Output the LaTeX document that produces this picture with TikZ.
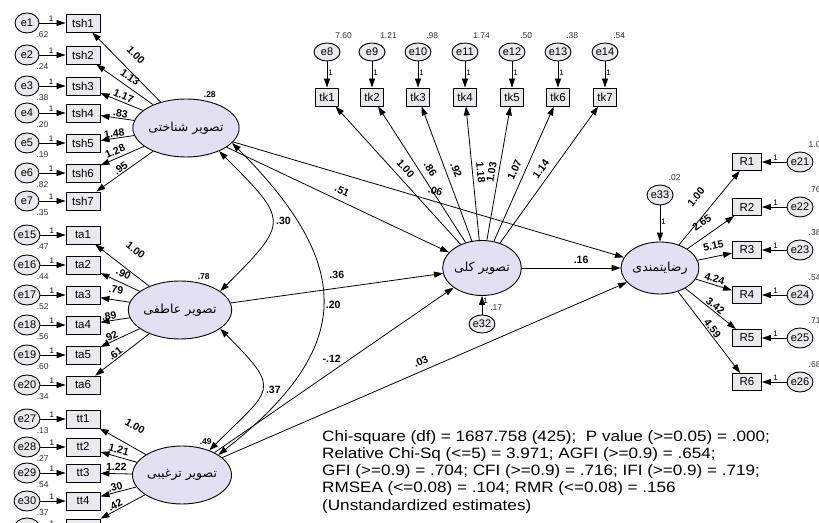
\documentclass[tikz,border=0pt]{standalone}
\usepackage{fontspec}
\setmainfont{Liberation Sans}
\newfontfamily\widefont[FakeStretch=1.14]{Liberation Sans}
\newfontfamily\arabicfont[Script=Arabic]{DejaVu Sans}
\TeXXeTstate=1
\usetikzlibrary{arrows.meta,shapes.geometric}
\definecolor{latfill}{RGB}{228,224,243}
\definecolor{boxfill}{RGB}{234,234,238}
\newcommand{\fa}[1]{{\arabicfont\beginR #1\endR}}

\begin{document}
\begin{tikzpicture}
  [x=1pt,y=1pt]
      \tikzstyle{lat_style} = [ellipse, draw, line width=0.9pt, fill=latfill, minimum width=78pt, minimum height=58pt, inner sep=0pt, font=\fontsize{12.5}{14}\selectfont]
      \tikzstyle{err_style} = [ellipse, draw, line width=0.9pt, fill=boxfill, minimum width=24pt, minimum height=20pt, inner sep=0pt, font=\fontsize{11}{12}\selectfont]
      \tikzstyle{obs_style} = [rectangle, draw, line width=0.9pt, fill=boxfill, minimum width=34pt, minimum height=18pt, inner sep=0pt, font=\fontsize{11.5}{12}\selectfont]
      \tikzstyle{edge_style} = [draw=black, line width=0.8pt, -{Triangle[length=9pt,width=6pt]}]
      \tikzstyle{cov_style} = [draw=black, line width=0.8pt, {Triangle[length=9pt,width=6pt]}-{Triangle[length=9pt,width=6pt]}]
      \tikzstyle{load_style} = [font=\bfseries\fontsize{10.5}{12}\selectfont, inner sep=1pt, sloped, above]
      \tikzstyle{one_style} = [font=\fontsize{8}{9}\selectfont, inner sep=1pt]
      \tikzstyle{var_style} = [font=\fontsize{8.5}{9}\selectfont, text=black!80, inner sep=0.5pt, label distance=0pt]
      \tikzstyle{tvar_style} = [font=\fontsize{8.5}{9}\selectfont, text=black!80, inner sep=0.5pt, label distance=5pt]
      \tikzstyle{lvar_style} = [font=\bfseries\fontsize{8.5}{9}\selectfont, inner sep=0.5pt, label distance=2pt]
  \useasboundingbox (0,0) rectangle (819,522);
  \clip (0,0) rectangle (819,522);

  % latent variables
  \node[lat_style, label={[lvar_style]60:.28}] (lcog) at (186,394) {\fa{تصویر شناختی}};
  \node[lat_style, label={[lvar_style]60:.78}] (laff) at (180,212) {\fa{تصویر عاطفی}};
  \node[lat_style, label={[lvar_style]60:.49}] (lcon) at (182,47) {\fa{تصویر ترغیبی}};
  \node[lat_style, minimum width=60pt, minimum height=55pt] (lall) at (482,254) {\fa{تصویر کلی}};
  \node[lat_style, minimum width=64pt, minimum height=52pt] (lsat) at (660,254) {\fa{رضایتمندی}};

  % cognitive image indicators
  \node[err_style, label={[var_style]-40:.62}] (e1) at (27,499) {e1};
  \node[err_style, label={[var_style]-40:.24}] (e2) at (27,467) {e2};
  \node[err_style, label={[var_style]-40:.38}] (e3) at (27,436) {e3};
  \node[err_style, label={[var_style]-40:.20}] (e4) at (27,409) {e4};
  \node[err_style, label={[var_style]-40:.19}] (e5) at (27,379) {e5};
  \node[err_style, label={[var_style]-40:.82}] (e6) at (27,349) {e6};
  \node[err_style, label={[var_style]-40:.35}] (e7) at (27,321) {e7};
  \node[obs_style] (tsh1) at (83,499) {tsh1};
  \node[obs_style] (tsh2) at (83,467) {tsh2};
  \node[obs_style] (tsh3) at (83,436) {tsh3};
  \node[obs_style] (tsh4) at (83,409) {tsh4};
  \node[obs_style] (tsh5) at (83,379) {tsh5};
  \node[obs_style] (tsh6) at (83,349) {tsh6};
  \node[obs_style] (tsh7) at (83,321) {tsh7};

  % affective image indicators
  \node[err_style, label={[var_style]-40:.47}] (e15) at (27,287) {e15};
  \node[err_style, label={[var_style]-40:.44}] (e16) at (27,257) {e16};
  \node[err_style, label={[var_style]-40:.52}] (e17) at (27,227) {e17};
  \node[err_style, label={[var_style]-40:.56}] (e18) at (27,197) {e18};
  \node[err_style, label={[var_style]-40:.60}] (e19) at (27,167) {e19};
  \node[err_style, label={[var_style]-40:.34}] (e20) at (27,137) {e20};
  \node[obs_style] (ta1) at (83,287) {ta1};
  \node[obs_style] (ta2) at (83,257) {ta2};
  \node[obs_style] (ta3) at (83,227) {ta3};
  \node[obs_style] (ta4) at (83,197) {ta4};
  \node[obs_style] (ta5) at (83,167) {ta5};
  \node[obs_style] (ta6) at (83,137) {ta6};

  % conative image indicators
  \node[err_style, label={[var_style]-40:.13}] (e27) at (27,103) {e27};
  \node[err_style, label={[var_style]-40:.27}] (e28) at (27,75) {e28};
  \node[err_style, label={[var_style]-40:.54}] (e29) at (27,49) {e29};
  \node[err_style, label={[var_style]-40:.37}] (e30) at (27,21) {e30};
  \node[err_style] (e31) at (27,-6) {e31};
  \node[obs_style] (tt1) at (83,103) {tt1};
  \node[obs_style] (tt2) at (83,75) {tt2};
  \node[obs_style] (tt3) at (83,49) {tt3};
  \node[obs_style] (tt4) at (83,21) {tt4};
  \node[obs_style] (tt5) at (83,-6) {tt5};

  % overall image indicators
  \node[err_style, minimum width=26pt, minimum height=18pt, label={[tvar_style]60:7.60}] (e8) at (327,470) {e8};
  \node[err_style, minimum width=26pt, minimum height=18pt, label={[tvar_style]60:1.21}] (e9) at (372,470) {e9};
  \node[err_style, minimum width=26pt, minimum height=18pt, label={[tvar_style]60:.98}] (e10) at (418,470) {e10};
  \node[err_style, minimum width=26pt, minimum height=18pt, label={[tvar_style]60:1.74}] (e11) at (465,470) {e11};
  \node[err_style, minimum width=26pt, minimum height=18pt, label={[tvar_style]60:.50}] (e12) at (512,470) {e12};
  \node[err_style, minimum width=26pt, minimum height=18pt, label={[tvar_style]60:.38}] (e13) at (558,470) {e13};
  \node[err_style, minimum width=26pt, minimum height=18pt, label={[tvar_style]60:.54}] (e14) at (605,470) {e14};
  \node[obs_style, minimum width=23pt] (tk1) at (327,425) {tk1};
  \node[obs_style, minimum width=23pt] (tk2) at (372,425) {tk2};
  \node[obs_style, minimum width=23pt] (tk3) at (418,425) {tk3};
  \node[obs_style, minimum width=23pt] (tk4) at (465,425) {tk4};
  \node[obs_style, minimum width=23pt] (tk5) at (512,425) {tk5};
  \node[obs_style, minimum width=23pt] (tk6) at (558,425) {tk6};
  \node[obs_style, minimum width=23pt] (tk7) at (605,425) {tk7};
  \node[err_style, minimum width=24pt, minimum height=18pt, label={[tvar_style]60:.17}] (e32) at (482,198) {e32};

  % satisfaction indicators
  \node[err_style, minimum width=26pt, minimum height=20pt, label={[tvar_style]60:.02}] (e33) at (660,327) {e33};
  \node[obs_style, minimum width=29pt, minimum height=17pt] (R1) at (747,360) {R1};
  \node[obs_style, minimum width=29pt, minimum height=17pt] (R2) at (747,315) {R2};
  \node[obs_style, minimum width=29pt, minimum height=17pt] (R3) at (747,272) {R3};
  \node[obs_style, minimum width=29pt, minimum height=17pt] (R4) at (747,227) {R4};
  \node[obs_style, minimum width=29pt, minimum height=17pt] (R5) at (747,184) {R5};
  \node[obs_style, minimum width=29pt, minimum height=17pt] (R6) at (747,140) {R6};
  \node[err_style, minimum width=25pt, label={[tvar_style]60:1.0}] (e21) at (800,360) {e21};
  \node[err_style, minimum width=25pt, label={[tvar_style]60:.76}] (e22) at (800,315) {e22};
  \node[err_style, minimum width=25pt, label={[tvar_style]60:.38}] (e23) at (800,272) {e23};
  \node[err_style, minimum width=25pt, label={[tvar_style]60:.54}] (e24) at (800,227) {e24};
  \node[err_style, minimum width=25pt, label={[tvar_style]60:.71}] (e25) at (800,184) {e25};
  \node[err_style, minimum width=25pt, label={[tvar_style]60:.68}] (e26) at (800,140) {e26};

  % error paths
  \draw[edge_style] (e1) -- node[one_style, above, pos=.45] {1} (tsh1);
  \draw[edge_style] (e2) -- node[one_style, above, pos=.45] {1} (tsh2);
  \draw[edge_style] (e3) -- node[one_style, above, pos=.45] {1} (tsh3);
  \draw[edge_style] (e4) -- node[one_style, above, pos=.45] {1} (tsh4);
  \draw[edge_style] (e5) -- node[one_style, above, pos=.45] {1} (tsh5);
  \draw[edge_style] (e6) -- node[one_style, above, pos=.45] {1} (tsh6);
  \draw[edge_style] (e7) -- node[one_style, above, pos=.45] {1} (tsh7);
  \draw[edge_style] (e15) -- node[one_style, above, pos=.45] {1} (ta1);
  \draw[edge_style] (e16) -- node[one_style, above, pos=.45] {1} (ta2);
  \draw[edge_style] (e17) -- node[one_style, above, pos=.45] {1} (ta3);
  \draw[edge_style] (e18) -- node[one_style, above, pos=.45] {1} (ta4);
  \draw[edge_style] (e19) -- node[one_style, above, pos=.45] {1} (ta5);
  \draw[edge_style] (e20) -- node[one_style, above, pos=.45] {1} (ta6);
  \draw[edge_style] (e27) -- node[one_style, above, pos=.45] {1} (tt1);
  \draw[edge_style] (e28) -- node[one_style, above, pos=.45] {1} (tt2);
  \draw[edge_style] (e29) -- node[one_style, above, pos=.45] {1} (tt3);
  \draw[edge_style] (e30) -- node[one_style, above, pos=.45] {1} (tt4);
  \draw[edge_style] (e31) -- node[one_style, above, pos=.45] {1} (tt5);
  \draw[edge_style] (e8) -- node[one_style, right, pos=.45] {1} (tk1);
  \draw[edge_style] (e9) -- node[one_style, right, pos=.45] {1} (tk2);
  \draw[edge_style] (e10) -- node[one_style, right, pos=.45] {1} (tk3);
  \draw[edge_style] (e11) -- node[one_style, right, pos=.45] {1} (tk4);
  \draw[edge_style] (e12) -- node[one_style, right, pos=.45] {1} (tk5);
  \draw[edge_style] (e13) -- node[one_style, right, pos=.45] {1} (tk6);
  \draw[edge_style] (e14) -- node[one_style, right, pos=.45] {1} (tk7);
  \draw[edge_style] (e21) -- node[one_style, above, pos=.45] {1} (R1);
  \draw[edge_style] (e22) -- node[one_style, above, pos=.45] {1} (R2);
  \draw[edge_style] (e23) -- node[one_style, above, pos=.45] {1} (R3);
  \draw[edge_style] (e24) -- node[one_style, above, pos=.45] {1} (R4);
  \draw[edge_style] (e25) -- node[one_style, above, pos=.45] {1} (R5);
  \draw[edge_style] (e26) -- node[one_style, above, pos=.45] {1} (R6);
  \draw[edge_style] (e32) -- node[one_style, right, pos=.75] {1} (lall);
  \draw[edge_style] (e33) -- node[one_style, right, pos=.45] {1} (lsat);

  % loadings
  \draw[edge_style] (lcog) -- node[load_style, pos=.52, above=10pt] {1.00} (tsh1);
  \draw[edge_style] (lcog) -- node[load_style, pos=.5, above=4pt] {1.13} (tsh2);
  \draw[edge_style] (lcog) -- node[load_style, pos=.51, above=1pt] {1.17} (tsh3);
  \draw[edge_style] (lcog) -- node[load_style, pos=.43] {.83} (tsh4);
  \draw[edge_style] (lcog) -- node[load_style, pos=.57] {1.48} (tsh5);
  \draw[edge_style] (lcog) -- node[load_style, pos=.6, above=2pt] {1.28} (tsh6);
  \draw[edge_style] (lcog) -- node[load_style, pos=.52] {.95} (tsh7);
  \draw[edge_style] (laff) -- node[load_style, pos=.48, above=15pt] {1.00} (ta1);
  \draw[edge_style] (laff) -- node[load_style, pos=.51, above=4pt] {.90} (ta2);
  \draw[edge_style] (laff) -- node[load_style, pos=.52, above=5pt] {.79} (ta3);
  \draw[edge_style] (laff) -- node[load_style, pos=.68] {.89} (ta4);
  \draw[edge_style] (laff) -- node[load_style, pos=.69] {.92} (ta5);
  \draw[edge_style] (laff) -- node[load_style, pos=.57] {.61} (ta6);
  \draw[edge_style] (lcon) -- node[load_style, pos=.44, above=14pt] {1.00} (tt1);
  \draw[edge_style] (lcon) -- node[load_style, pos=.55, above=2pt] {1.21} (tt2);
  \draw[edge_style] (lcon) -- node[load_style, pos=.5, above=2pt] {1.22} (tt3);
  \draw[edge_style] (lcon) -- node[load_style, pos=.55] {.30} (tt4);
  \draw[edge_style] (lcon) -- node[load_style, pos=.62] {.42} (tt5);
  \draw[edge_style] (lall) -- node[load_style, pos=.5, above=5pt] {1.00} (tk1);
  \draw[edge_style] (lall) -- node[load_style, pos=.5, above=5pt] {.86} (tk2);
  \draw[edge_style] (lall) -- node[load_style, pos=.5, above=5pt] {.92} (tk3);
  \draw[edge_style] (lall) -- node[load_style, pos=.5, above=3pt] {1.18} (tk4);
  \draw[edge_style] (lall) -- node[load_style, pos=.5, above=2pt] {1.03} (tk5);
  \draw[edge_style] (lall) -- node[load_style, pos=.5, above=5pt] {1.07} (tk6);
  \draw[edge_style] (lall) -- node[load_style, pos=.5, above=5pt] {1.14} (tk7);
  \draw[edge_style] (lsat) -- node[load_style, pos=.5, above=12pt] {1.00} (R1);
  \draw[edge_style] (lsat) -- node[load_style, pos=.47, above=8pt] {2.65} (R2);
  \draw[edge_style] (lsat) -- node[load_style, pos=.52, above=6pt] {5.15} (R3);
  \draw[edge_style] (lsat) -- node[load_style, pos=.47, above=1pt] {4.24} (R4);
  \draw[edge_style] (lsat) -- node[load_style, pos=.53] {3.42} (R5);
  \draw[edge_style] (lsat) -- node[load_style, pos=.49] {4.59} (R6);

  % structural paths
  \draw[edge_style] (lcog) -- node[load_style, pos=.5, above=5pt] {.51} (lall);
  \draw[edge_style] (lcog) -- node[load_style, pos=.51, above=5pt] {.06} (lsat);
  \draw[edge_style] (laff) -- node[load_style, pos=.5, above=8pt, sloped=false] {.36} (lall);
  \draw[edge_style] (lcon) -- node[load_style, pos=.49, above=8pt, sloped=false] {-.12} (lall);
  \draw[edge_style] (lcon) -- node[load_style, pos=.5, above=4pt] {.03} (lsat);
  \draw[edge_style] (lall) -- node[load_style, pos=.6, above=3pt] {.16} (lsat);

  % covariances
  \draw[cov_style] (lcog.-35) to[out=-45, in=45, looseness=1.79] node[load_style, sloped=false, right=3pt] {.30} (laff.25);
  \draw[cov_style] (laff.-25) to[out=-45, in=45, looseness=1.85] node[load_style, sloped=false, right=3pt] {.37} (lcon.42);
  \draw[cov_style] (lcog.-18) to[out=-45, in=38, looseness=1.42] node[load_style, sloped=false, right=2pt] {.20} (lcon.29);

  % fit statistics
  \node[anchor=north west, align=left, inner sep=0pt, font=\widefont\fontsize{15}{17.3}\selectfont] (fit) at (322,92)
    {Chi-square (df) = 1687.758 (425);\ \ P value (>=0.05) = .000;\\
     Relative Chi-Sq (<=5) = 3.971; AGFI (>=0.9) = .654;\\
     GFI (>=0.9) = .704; CFI (>=0.9) = .716; IFI (>=0.9) = .719;\\
     RMSEA (<=0.08) = .104; RMR (<=0.08) = .156\\
     (Unstandardized estimates)};
\end{tikzpicture}
\end{document}
